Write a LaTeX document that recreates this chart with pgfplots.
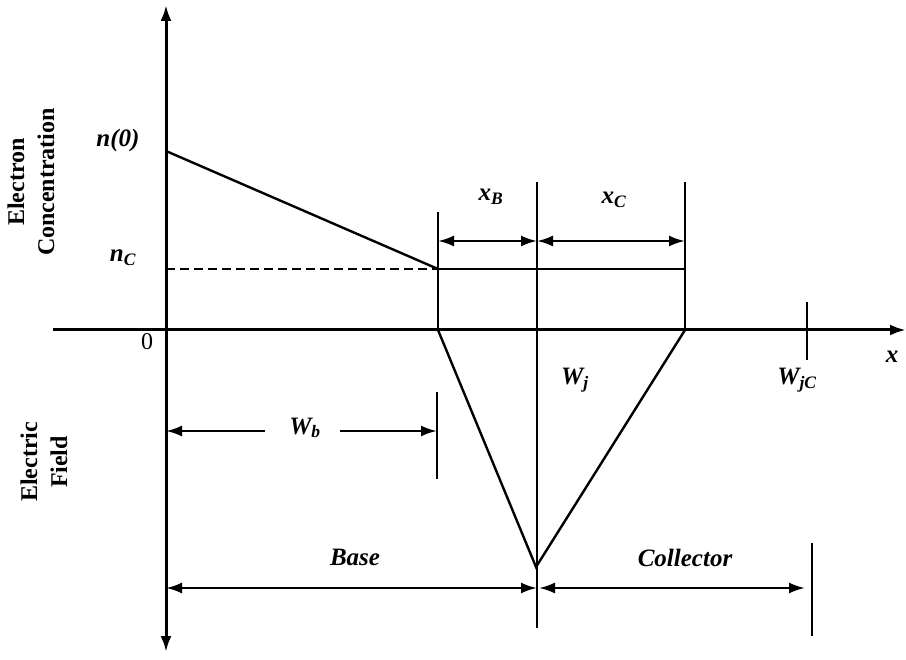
\documentclass[border=0pt]{standalone}
\usepackage{fontspec}
\setmainfont{Liberation Serif}
\usepackage{pgfplots}
\pgfplotsset{compat=1.18}
\usetikzlibrary{arrows.meta}
\newcommand\lb[1]{{\fontsize{25}{29}\selectfont\bfseries\itshape #1}}
\begin{document}
\begin{tikzpicture}
\tikzset{ar/.style={-{Latex[length=16pt,width=11pt]}}, dar/.style={{Latex[length=16pt,width=11pt]}-{Latex[length=16pt,width=11pt]}}}
\begin{axis}[scale only axis, width=906pt, height=660pt, xmin=0, xmax=906, ymin=0, ymax=660,
  y dir=reverse, hide axis, clip=false]
% axes
\addplot[line width=3pt, dar] coordinates {(166,652) (166,5)};
\addplot[line width=3pt, ar] coordinates {(53,330) (906,330)};
% electron concentration
\addplot[line width=2.4pt] coordinates {(166,151) (438,269)};
\addplot[line width=2.4pt, dash pattern=on 9pt off 5pt] coordinates {(166,269) (438,269)};
\addplot[line width=1.5pt] coordinates {(438,269) (685,269)};
% verticals
\addplot[line width=2.4pt] coordinates {(438,212) (438,330)};
\addplot[line width=2.4pt] coordinates {(537,182) (537,628)};
\addplot[line width=2.4pt] coordinates {(685,182) (685,330)};
% field triangle
\addplot[line width=2.4pt] coordinates {(438,330) (536,567) (685,330)};
% xB xC arrows
\addplot[line width=2.4pt, dar] coordinates {(438,241) (537,241)};
\addplot[line width=2.4pt, dar] coordinates {(537,241) (685,241)};
% WjC tick
\addplot[line width=2.6pt] coordinates {(807,302) (807,360)};
% Wb
\addplot[line width=2.4pt, ar] coordinates {(265,431) (166,431)};
\addplot[line width=2.4pt, ar] coordinates {(340,431) (437,431)};
\addplot[line width=2.4pt] coordinates {(437,392) (437,479)};
% Base / Collector
\addplot[line width=2.4pt, dar] coordinates {(166,588) (537,588)};
\addplot[line width=2.4pt, dar] coordinates {(539,588) (805,588)};
\addplot[line width=2.4pt] coordinates {(812,543) (812,636)};
% labels
\node at (axis cs:118,140) {\lb{n(0)}};
\node at (axis cs:123,258) {\lb{n\textsubscript{C}}};
\node at (axis cs:147,342) {{\fontsize{24}{28}\selectfont 0}};
\node at (axis cs:491,197) {\lb{x\textsubscript{B}}};
\node at (axis cs:614,200) {\lb{x\textsubscript{C}}};
\node at (axis cs:575,380) {\lb{W\textsubscript{j}}};
\node at (axis cs:797,380) {\lb{W\textsubscript{jC}}};
\node at (axis cs:892,357) {\lb{x}};
\node at (axis cs:305,428) {\lb{W\textsubscript{b}}};
\node at (axis cs:355,557) {\lb{Base}};
\node at (axis cs:685,558) {\lb{Collector}};
\node[rotate=90, align=center, font=\fontsize{24}{30}\selectfont\bfseries] at (axis cs:31,182) {Electron\\Concentration};
\node[rotate=90, align=center, font=\fontsize{24}{30}\selectfont\bfseries] at (axis cs:44,462) {Electric\\Field};
\end{axis}
\pgfresetboundingbox
\path (0,0) rectangle (906pt,660pt);
\end{tikzpicture}
\end{document}
